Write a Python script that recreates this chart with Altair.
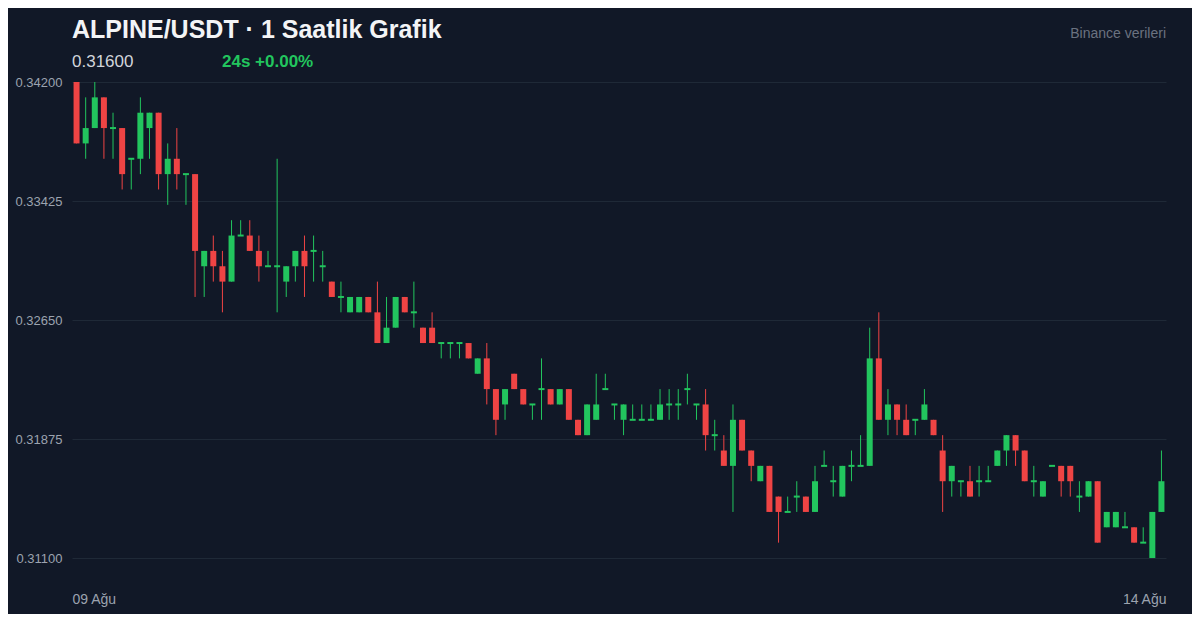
import altair as alt
import pandas as pd

# ---- data (hourly candles, ALPINE/USDT) ----
opens = [0.342, 0.338, 0.339, 0.341, 0.339, 0.339, 0.337, 0.337, 0.339, 0.340,
         0.336, 0.337, 0.336, 0.336, 0.330, 0.331, 0.330, 0.329, 0.332, 0.332,
         0.331, 0.330, 0.330, 0.329, 0.330, 0.331, 0.331, 0.330, 0.329, 0.328,
         0.327, 0.327, 0.328, 0.327, 0.325, 0.326, 0.328, 0.327, 0.326, 0.326,
         0.325, 0.325, 0.325, 0.325, 0.323, 0.324, 0.322, 0.321, 0.323, 0.322,
         0.321, 0.322, 0.322, 0.321, 0.322, 0.320, 0.319, 0.320, 0.322, 0.321,
         0.320, 0.320, 0.320, 0.320, 0.320, 0.321, 0.321, 0.322, 0.321, 0.321,
         0.319, 0.318, 0.317, 0.320, 0.318, 0.316, 0.317, 0.315, 0.314, 0.315,
         0.315, 0.314, 0.317, 0.316, 0.315, 0.317, 0.317, 0.317, 0.324, 0.320,
         0.321, 0.320, 0.320, 0.320, 0.320, 0.318, 0.316, 0.316, 0.316, 0.316,
         0.316, 0.317, 0.318, 0.319, 0.318, 0.316, 0.315, 0.317, 0.317, 0.317,
         0.315, 0.315, 0.316, 0.313, 0.313, 0.313, 0.313, 0.312, 0.311, 0.314]
highs = [0.342, 0.341, 0.342, 0.341, 0.340, 0.339, 0.337, 0.341, 0.340, 0.340,
         0.338, 0.339, 0.336, 0.336, 0.331, 0.332, 0.331, 0.333, 0.333, 0.333,
         0.332, 0.331, 0.337, 0.330, 0.331, 0.332, 0.332, 0.331, 0.329, 0.329,
         0.328, 0.328, 0.328, 0.329, 0.328, 0.328, 0.328, 0.329, 0.326, 0.327,
         0.325, 0.325, 0.325, 0.325, 0.324, 0.325, 0.322, 0.322, 0.323, 0.322,
         0.321, 0.324, 0.322, 0.322, 0.322, 0.320, 0.321, 0.323, 0.323, 0.321,
         0.321, 0.321, 0.321, 0.321, 0.322, 0.322, 0.322, 0.323, 0.321, 0.322,
         0.320, 0.319, 0.321, 0.320, 0.318, 0.317, 0.317, 0.315, 0.315, 0.316,
         0.315, 0.317, 0.318, 0.317, 0.317, 0.318, 0.319, 0.326, 0.327, 0.322,
         0.321, 0.321, 0.320, 0.322, 0.320, 0.319, 0.317, 0.316, 0.317, 0.317,
         0.317, 0.318, 0.319, 0.319, 0.318, 0.317, 0.316, 0.317, 0.317, 0.317,
         0.316, 0.316, 0.316, 0.314, 0.314, 0.314, 0.313, 0.313, 0.314, 0.318]
lows = [0.338, 0.337, 0.339, 0.337, 0.337, 0.335, 0.335, 0.336, 0.337, 0.335,
        0.334, 0.335, 0.334, 0.328, 0.328, 0.329, 0.327, 0.329, 0.332, 0.331,
        0.329, 0.330, 0.327, 0.328, 0.329, 0.328, 0.329, 0.329, 0.328, 0.327,
        0.327, 0.327, 0.327, 0.325, 0.325, 0.326, 0.327, 0.326, 0.325, 0.325,
        0.324, 0.324, 0.324, 0.324, 0.323, 0.321, 0.319, 0.320, 0.322, 0.321,
        0.320, 0.320, 0.321, 0.321, 0.320, 0.319, 0.319, 0.320, 0.322, 0.320,
        0.319, 0.320, 0.320, 0.320, 0.320, 0.320, 0.320, 0.321, 0.320, 0.318,
        0.318, 0.317, 0.314, 0.318, 0.316, 0.316, 0.314, 0.312, 0.314, 0.314,
        0.314, 0.314, 0.317, 0.315, 0.315, 0.316, 0.317, 0.317, 0.320, 0.319,
        0.319, 0.319, 0.319, 0.320, 0.319, 0.314, 0.315, 0.315, 0.315, 0.315,
        0.316, 0.317, 0.317, 0.317, 0.316, 0.315, 0.315, 0.317, 0.315, 0.315,
        0.314, 0.315, 0.312, 0.313, 0.313, 0.313, 0.312, 0.312, 0.311, 0.314]
closes = [0.338, 0.339, 0.341, 0.339, 0.339, 0.336, 0.337, 0.340, 0.340, 0.336,
          0.337, 0.336, 0.336, 0.331, 0.331, 0.330, 0.329, 0.332, 0.332, 0.331,
          0.330, 0.330, 0.330, 0.330, 0.331, 0.330, 0.331, 0.330, 0.328, 0.328,
          0.328, 0.328, 0.327, 0.325, 0.326, 0.328, 0.327, 0.327, 0.325, 0.325,
          0.325, 0.325, 0.325, 0.324, 0.324, 0.322, 0.320, 0.322, 0.322, 0.321,
          0.321, 0.322, 0.321, 0.322, 0.320, 0.319, 0.321, 0.321, 0.322, 0.321,
          0.321, 0.320, 0.320, 0.320, 0.321, 0.321, 0.321, 0.322, 0.321, 0.319,
          0.319, 0.317, 0.320, 0.318, 0.317, 0.317, 0.314, 0.314, 0.314, 0.315,
          0.314, 0.316, 0.317, 0.316, 0.317, 0.317, 0.317, 0.324, 0.320, 0.321,
          0.320, 0.319, 0.320, 0.321, 0.319, 0.316, 0.317, 0.316, 0.315, 0.316,
          0.316, 0.318, 0.319, 0.318, 0.316, 0.316, 0.316, 0.317, 0.316, 0.316,
          0.315, 0.316, 0.312, 0.314, 0.314, 0.313, 0.312, 0.312, 0.314, 0.316]

y_ticks = [0.342, 0.33425, 0.3265, 0.31875, 0.311]
x_labels = ["09 Ağu", "14 Ağu"]
title_text = "ALPINE/USDT · 1 Saatlik Grafik"
price_text = "0.31600"
change_text = "24s +0.00%"
source_text = "Binance verileri"

UP, DOWN = "#22c55e", "#ef4444"
BG = "#111827"
GRID = "#1f2937"
LABEL = "#9ca3af"
FONT = "Liberation Sans"

n = len(opens)
df = pd.DataFrame({"idx": list(range(n)), "open": opens, "high": highs,
                   "low": lows, "close": closes})
df["dir"] = ["up" if c >= o else "down" for o, c in zip(opens, closes)]

x_axis = alt.Axis(values=[-0.5, n - 0.5],
                  labelExpr=f"datum.value < {n/2} ? '{x_labels[0]}' : '{x_labels[1]}'",
                  labelFlush=True, grid=False, ticks=False, domain=False,
                  labelPadding=34, labelFontSize=14, labelColor=LABEL, labelFont=FONT)
y_axis = alt.Axis(values=y_ticks, format=".5f", grid=True, gridColor=GRID, gridWidth=1,
                  ticks=False, domain=False, labelPadding=10, labelFontSize=13,
                  labelColor=LABEL, labelFont=FONT)
xs = alt.Scale(domain=[-0.5, n - 0.5], nice=False, zero=False, padding=0)
ys = alt.Scale(domain=[0.311, 0.342], nice=False, zero=False, padding=0)
color = alt.Color("dir:N", scale=alt.Scale(domain=["up", "down"], range=[UP, DOWN]), legend=None)

base = alt.Chart(df)
wicks = base.mark_rule(strokeWidth=1).encode(
    x=alt.X("idx:Q", scale=xs, axis=x_axis, title=None),
    y=alt.Y("low:Q", scale=ys, axis=y_axis, title=None),
    y2="high:Q",
    color=color,
)
bodies = base.transform_filter("datum.open != datum.close").mark_bar(width=6).encode(
    x=alt.X("idx:Q", scale=xs, axis=x_axis, title=None),
    y=alt.Y("open:Q", scale=ys, axis=y_axis, title=None),
    y2="close:Q",
    color=color,
)
dojis = base.transform_filter("datum.open == datum.close").mark_rule(
    strokeWidth=2, xOffset=-3, x2Offset=3).encode(
    x=alt.X("idx:Q", scale=xs, axis=x_axis, title=None),
    x2="idx:Q",
    y=alt.Y("close:Q", scale=ys, axis=y_axis, title=None),
    color=color,
)

def label(text, px, py, size, col, weight="normal", align="left"):
    return alt.Chart(pd.DataFrame({"t": [text]})).mark_text(
        align=align, baseline="alphabetic", fontSize=size, fontWeight=weight,
        color=col, font=FONT).encode(x=alt.value(px), y=alt.value(py), text="t:N")

texts = (label(title_text, 0, -43.7, 25, "#f3f4f6", "bold")
         + label(price_text, 0, -15.3, 17, "#d1d5db")
         + label(change_text, 150, -15.3, 17, UP, "bold")
         + label(source_text, 1094, -43.7, 14, "#6b7280", align="right"))

chart = alt.layer(wicks, bodies, dojis, texts).properties(
    width=1094, height=476,
    autosize=alt.AutoSizeParams(type="none"),
    padding={"left": 64, "top": 74, "right": 26, "bottom": 56},
).configure(background=BG).configure_view(stroke=None)

chart.save("out.html", embed_options={"renderer": "svg", "actions": False})
